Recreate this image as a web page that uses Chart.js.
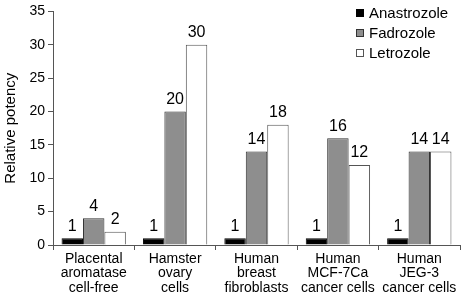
<!DOCTYPE html>
<html>
<head>
<meta charset="utf-8">
<script src="https://cdn.jsdelivr.net/npm/chart.js@4"></script>
<style>
  html, body { margin: 0; padding: 0; background: #fff; }
  #wrap { width: 464px; height: 294px; }
</style>
</head>
<body>
<div id="wrap"><canvas id="chart" width="464" height="294"></canvas></div>
<script>
// categories (multi-line labels)
const categories = [
    ['Placental', 'aromatase', 'cell-free'],
    ['Hamster', 'ovary', 'cells'],
    ['Human', 'breast', 'fibroblasts'],
    ['Human', 'MCF-7Ca', 'cancer cells'],
    ['Human', 'JEG-3', 'cancer cells']
];
const anastrozole = [1, 1, 1, 1, 1];
const fadrozole = [4, 20, 14, 16, 14];
const letrozole = [2, 30, 18, 12, 14];
const yTicks = [0, 5, 10, 15, 20, 25, 30, 35];

const FONT = 'Liberation Sans, Arial, sans-serif';

// value labels above each bar
const barLabels = {
    id: 'barLabels',
    afterDatasetsDraw(chart) {
        const ctx = chart.ctx;
        ctx.save();
        ctx.font = '16px ' + FONT;
        ctx.fillStyle = '#000';
        ctx.textAlign = 'center';
        ctx.textBaseline = 'bottom';
        chart.data.datasets.forEach((ds, i) => {
            chart.getDatasetMeta(i).data.forEach((bar, j) => {
                ctx.fillText(String(ds.data[j]), bar.x, bar.y - 4);
            });
        });
        ctx.restore();
    }
};

// legend drawn in the top-right corner of the plot
const cornerLegend = {
    id: 'cornerLegend',
    afterDraw(chart) {
        const ctx = chart.ctx;
        ctx.save();
        ctx.font = '15px ' + FONT;
        ctx.textBaseline = 'middle';
        chart.data.datasets.forEach((ds, i) => {
            const y = 13 + i * 20;
            ctx.fillStyle = ds.backgroundColor;
            ctx.fillRect(356, y - 4, 8, 8);
            ctx.strokeStyle = ds.borderColor;
            ctx.lineWidth = 1;
            ctx.strokeRect(356.5, y - 3.5, 7, 7);
            ctx.fillStyle = '#000';
            ctx.fillText(ds.label, 369, y + 1);
        });
        ctx.restore();
    }
};

new Chart(document.getElementById('chart'), {
    type: 'bar',
    data: {
        labels: categories,
        datasets: [
            { label: 'Anastrozole', data: anastrozole, backgroundColor: '#000000', borderColor: '#000000', borderWidth: 1 },
            { label: 'Fadrozole', data: fadrozole, backgroundColor: '#8e8e8e', borderColor: '#333333', borderWidth: 1 },
            { label: 'Letrozole', data: letrozole, backgroundColor: '#ffffff', borderColor: '#555555', borderWidth: 1 }
        ]
    },
    options: {
        responsive: false,
        animation: false,
        layout: { padding: { top: 5, right: 4, bottom: 0, left: 2 } },
        plugins: {
            legend: { display: false },
            tooltip: { enabled: false }
        },
        datasets: {
            bar: { categoryPercentage: 0.79, barPercentage: 1.0 }
        },
        scales: {
            x: {
                grid: { offset: true, drawOnChartArea: false, tickLength: 5, color: '#555' },
                border: { color: '#555', width: 1 },
                ticks: { color: '#000', font: { family: FONT, size: 14, lineHeight: 1.03 }, maxRotation: 0, autoSkip: false, padding: 2 },
                afterFit(scale) { scale.height = 49; }
            },
            y: {
                min: 0,
                max: 35,
                afterBuildTicks(scale) { scale.ticks = yTicks.map(v => ({ value: v })); },
                grid: { drawOnChartArea: false, tickLength: 5, color: '#555' },
                border: { color: '#555', width: 1 },
                ticks: { color: '#000', font: { family: FONT, size: 14 }, padding: 3 },
                title: { display: true, text: 'Relative potency', color: '#000', font: { family: FONT, size: 15 }, padding: 0 },
                afterFit(scale) { scale.width = 51; }
            }
        }
    },
    plugins: [barLabels, cornerLegend]
});
</script>
</body>
</html>
